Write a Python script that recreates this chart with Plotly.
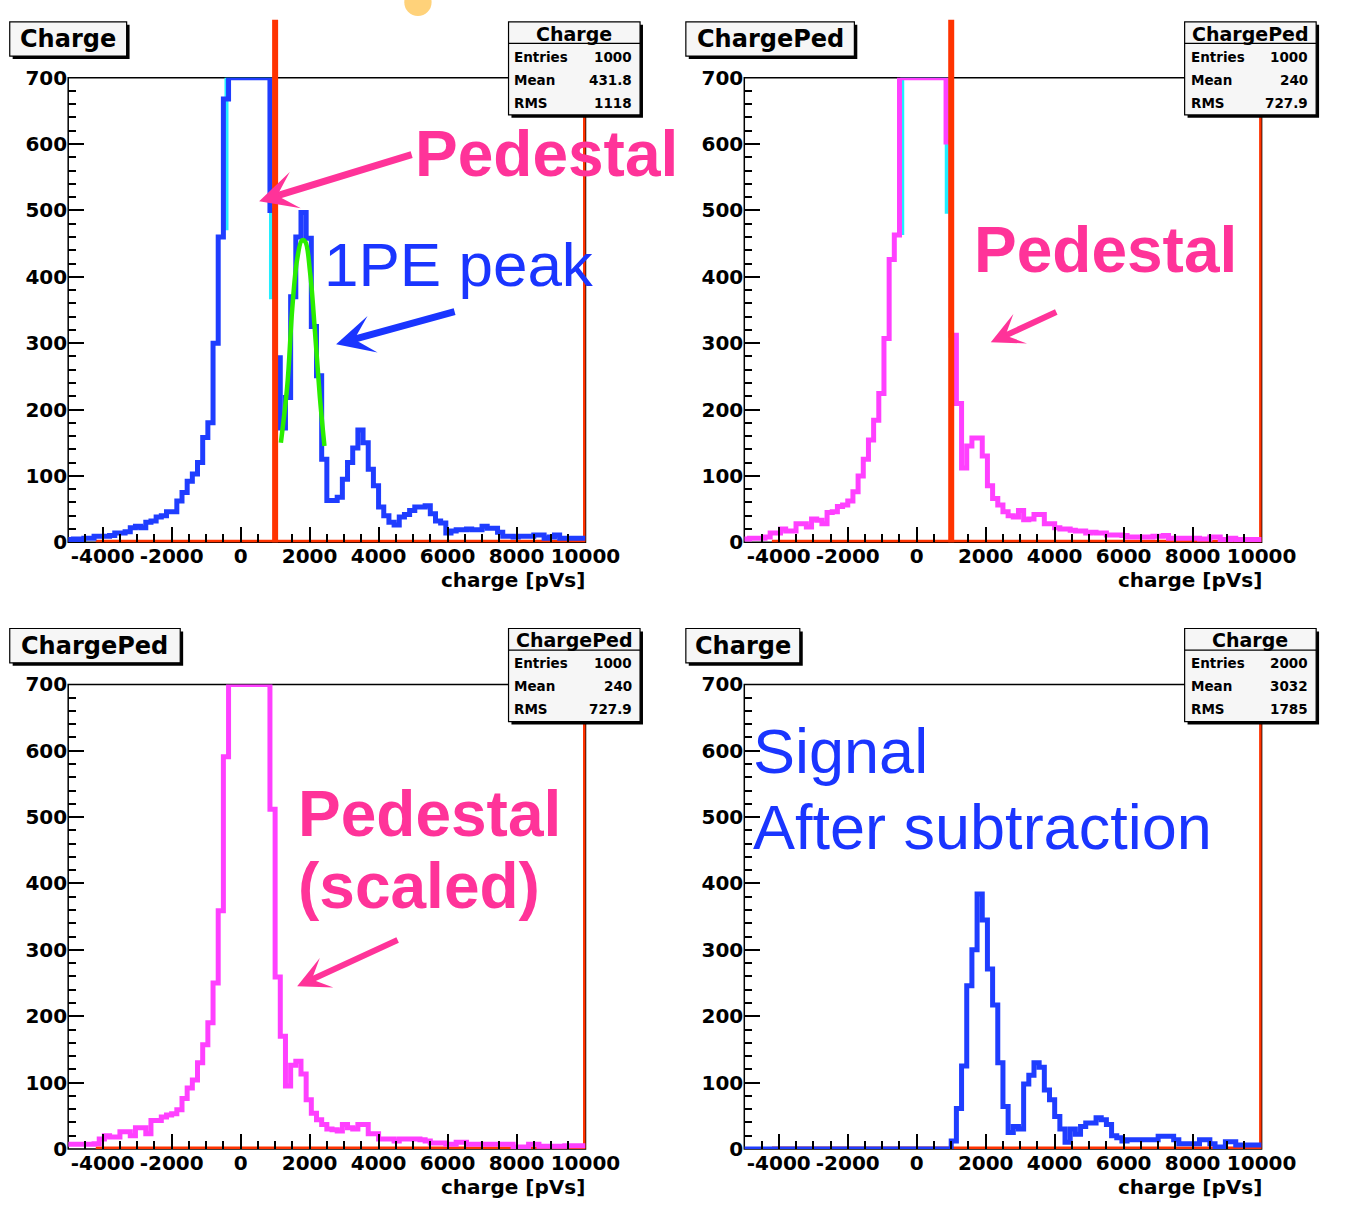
import plotly.graph_objects as go

W, H = 1357, 1209

# ------------------------------------------------------------------ data
bin_start = -5000
bin_width = 150
x_range = [-5000, 10000]
y_range = [0, 700]
x_tick_vals = [-4000, -2000, 0, 2000, 4000, 6000, 8000, 10000]
x_tick_text = ["-4000", "-2000", "0", "2000", "4000", "6000", "8000", "10000"]
y_tick_vals = [0, 100, 200, 300, 400, 500, 600, 700]
y_tick_text = ["0", "100", "200", "300", "400", "500", "600", "700"]

# top-left: Charge (signal + pedestal), counts per 150 pVs bin (display clipped at 700)
charge_counts = [4, 5, 4, 6, 6, 9, 9, 9, 10, 14,
                 14, 16, 22, 24, 22, 30, 32, 38, 40, 46,
                 46, 62, 75, 92, 103, 120, 158, 180, 300, 460,
                 668, 700, 700, 700, 700, 700, 700, 700, 700, 500,
                 278, 172, 218, 370, 460, 497, 458, 325, 251, 125,
                 63, 63, 68, 95, 120, 142, 169, 150, 110, 85,
                 53, 40, 30, 26, 38, 42, 48, 53, 53, 55,
                 43, 32, 29, 14, 17, 19, 19, 20, 19, 19,
                 24, 21, 21, 15, 9, 9, 8, 9, 9, 9,
                 11, 11, 6, 8, 11, 6, 6, 6, 6, 6]

# top-right: ChargePed
chargeped_counts = [5, 6, 6, 6, 8, 14, 14, 20, 17, 17,
                    28, 28, 23, 35, 33, 28, 45, 46, 54, 56,
                    62, 76, 100, 125, 154, 184, 224, 307, 426, 463,
                    700, 700, 700, 700, 700, 700, 700, 700, 700, 603,
                    312, 209, 112, 145, 157, 157, 130, 85, 66, 56,
                    46, 40, 38, 48, 34, 35, 42, 42, 28, 28,
                    22, 20, 20, 18, 17, 17, 14, 15, 14, 14,
                    11, 11, 11, 10, 8, 8, 8, 8, 8, 9,
                    9, 10, 6, 6, 6, 6, 6, 6, 5, 5,
                    8, 8, 4, 4, 6, 4, 4, 4, 4, 4]

# bottom-left: ChargePed (scaled)
chargeped_scaled_counts = [7, 7, 7, 7, 7, 8, 15, 20, 18, 18,
                           26, 26, 20, 32, 32, 23, 43, 43, 48, 51,
                           53, 59, 76, 92, 104, 130, 157, 190, 250, 359,
                           591, 700, 700, 700, 700, 700, 700, 700, 700, 512,
                           259, 170, 95, 126, 132, 113, 74, 54, 44, 37,
                           30, 29, 27, 37, 32, 30, 37, 37, 23, 23,
                           15, 15, 15, 12, 15, 15, 15, 15, 14, 12,
                           9, 9, 9, 7, 7, 10, 10, 7, 7, 7,
                           7, 7, 7, 7, 7, 7, 3, 3, 3, 7,
                           7, 4, 4, 4, 4, 4, 5, 5, 5, 5]

# bottom-right: signal after subtraction
signal_counts = [0, 0, 0, 0, 0, 0, 0, 0, 0, 0,
                 0, 0, 0, 0, 0, 0, 0, 0, 0, 0,
                 0, 0, 0, 0, 0, 0, 0, 0, 0, 0,
                 0, 0, 0, 0, 0, 0, 0, 0, 0, 0,
                 12, 61, 125, 246, 300, 384, 345, 271, 217, 130,
                 64, 25, 34, 30, 98, 111, 130, 123, 89, 74,
                 49, 30, 10, 30, 22, 34, 39, 39, 47, 44,
                 37, 20, 17, 12, 14, 14, 14, 14, 14, 14,
                 19, 19, 19, 14, 8, 8, 8, 8, 14, 14,
                 8, 3, 3, 11, 11, 6, 6, 6, 6, 6]

# green 1PE fit curve
fit_x = [1167, 1356, 1497, 1638, 1779, 1873, 2015, 2156, 2297, 2430]
fit_y = [150, 238, 352, 426, 455, 453, 406, 317, 219, 145]

# cyan pedestal-window outlines
ped_window_tl_x = [-410, -410, 880, 880]
ped_window_tl_y = [470, 700, 700, 366]
ped_window_tr_x = [-420, -420, 870, 870]
ped_window_tr_y = [463, 700, 700, 495]

cut_position = 1000
red_zero_x = [-4200, 10000, 10000]
red_zero_y = [0, 0, 700]

panel_titles = ["Charge", "ChargePed", "ChargePed", "Charge"]
stat_names = ["Entries", "Mean", "RMS"]
stat_values = [["1000", "431.8", "1118"],
               ["1000", "240", "727.9"],
               ["1000", "240", "727.9"],
               ["2000", "3032", "1785"]]
x_title = "charge [pVs]"

# ------------------------------------------------------------------ style
BLUE = "#1F3DFF"
MAGENTA = "#FF40FF"
CYAN = "#22EEFF"
GREEN = "#2BEE00"
RED = "#FF3300"
PINK = "#FF3399"
TXTBLUE = "#1A35FF"
ROOTFONT = "DejaVu Sans"
ARIAL = "Liberation Sans"
HW = 5  # histogram line width

panels = [(70, 601, 67, 541), (764, 1295, 67, 541),
          (70, 601, 686, 1160), (764, 1295, 686, 1160)]
title_widths = [120, 173, 175, 117]


def px(v):
    return v / W


def py(v):
    return 1 - v / H


def steps(counts):
    edges = [bin_start + bin_width * i for i in range(len(counts) + 1)]
    return edges, list(counts) + [counts[-1]]


fig = go.Figure()
layout = dict(width=W, height=H, margin=dict(l=0, r=0, t=0, b=0), autosize=False,
              paper_bgcolor="white", plot_bgcolor="white", showlegend=False)

shapes, annotations = [], []

for k, (l, r, t, b) in enumerate(panels):
    n = "" if k == 0 else str(k + 1)
    layout["xaxis" + n] = dict(
        domain=[px(l), px(r)], range=x_range, anchor="y" + n,
        tickmode="array", tickvals=x_tick_vals, ticktext=x_tick_text,
        ticks="inside", ticklen=15, tickwidth=1.5, tickcolor="black",
        minor=dict(tickmode="linear", tick0=0, dtick=500, ticks="inside",
                   ticklen=8, tickwidth=1.5, tickcolor="black"),
        showline=False, showgrid=False, zeroline=False,
        tickfont=dict(family=ROOTFONT, size=20, color="black", weight="bold"))
    layout["yaxis" + n] = dict(
        domain=[py(b), py(t)], range=y_range, anchor="x" + n,
        tickmode="array", tickvals=y_tick_vals, ticktext=y_tick_text,
        ticks="inside", ticklen=16, tickwidth=1.5, tickcolor="black",
        minor=dict(tickmode="linear", tick0=0, dtick=20, ticks="inside",
                   ticklen=8, tickwidth=1.5, tickcolor="black"),
        showline=False, showgrid=False, zeroline=False,
        tickfont=dict(family=ROOTFONT, size=20, color="black", weight="bold"))

    # frame
    shapes.append(dict(type="rect", xref="paper", yref="paper", x0=px(l), x1=px(r),
                       y0=py(b), y1=py(t), line=dict(color="black", width=1.5),
                       fillcolor="rgba(0,0,0,0)", layer="below"))

    # x axis title
    annotations.append(dict(text="<b>" + x_title + "</b>", xref="paper", yref="paper",
                            x=px(r + 2), y=py(b + 39), xanchor="right", yanchor="middle",
                            showarrow=False, font=dict(family=ROOTFONT, size=20, color="black")))

    # title box
    tl_, tt_ = l - 60, t - 57
    tw = title_widths[k]
    shapes.append(dict(type="rect", xref="paper", yref="paper", x0=px(tl_ + 3), x1=px(tl_ + tw + 3),
                       y0=py(tt_ + 38), y1=py(tt_ + 3), line=dict(width=0), fillcolor="black", layer="above"))
    shapes.append(dict(type="rect", xref="paper", yref="paper", x0=px(tl_), x1=px(tl_ + tw),
                       y0=py(tt_ + 35), y1=py(tt_), line=dict(color="black", width=1.2),
                       fillcolor="#F6F6F6", layer="above"))
    annotations.append(dict(text="<b>" + panel_titles[k] + "</b>", xref="paper", yref="paper",
                            x=px(tl_ + tw / 2), y=py(tt_ + 18), xanchor="center", yanchor="middle",
                            showarrow=False, font=dict(family=ROOTFONT, size=24, color="black")))

    # stats box
    sl, sr, st, sb = r - 79, r + 56, t - 57, t + 38
    shapes.append(dict(type="rect", xref="paper", yref="paper", x0=px(sl + 3), x1=px(sr + 3),
                       y0=py(sb + 3), y1=py(st + 3), line=dict(width=0), fillcolor="black", layer="above"))
    shapes.append(dict(type="rect", xref="paper", yref="paper", x0=px(sl), x1=px(sr),
                       y0=py(sb), y1=py(st), line=dict(color="black", width=1.2),
                       fillcolor="#F6F6F6", layer="above"))
    shapes.append(dict(type="line", xref="paper", yref="paper", x0=px(sl), x1=px(sr),
                       y0=py(st + 22), y1=py(st + 22), line=dict(color="black", width=1.2), layer="above"))
    annotations.append(dict(text="<b>" + panel_titles[k] + "</b>", xref="paper", yref="paper",
                            x=px((sl + sr) / 2), y=py(st + 12), xanchor="center", yanchor="middle",
                            showarrow=False, font=dict(family=ROOTFONT, size=19, color="black")))
    for j, (name, val) in enumerate(zip(stat_names, stat_values[k])):
        yy = st + 35.5 + 23.5 * j
        annotations.append(dict(text="<b>" + name + "</b>", xref="paper", yref="paper",
                                x=px(sl + 4), y=py(yy), xanchor="left", yanchor="middle",
                                showarrow=False, font=dict(family=ROOTFONT, size=13.5, color="black")))
        annotations.append(dict(text="<b>" + val + "</b>", xref="paper", yref="paper",
                                x=px(sr - 6), y=py(yy), xanchor="right", yanchor="middle",
                                showarrow=False, font=dict(family=ROOTFONT, size=13.5, color="black")))

    # red zero-line histogram
    fig.add_trace(go.Scatter(x=red_zero_x, y=red_zero_y, mode="lines", xaxis="x" + n, yaxis="y" + n,
                             line=dict(color=RED, width=5), hoverinfo="skip"))

# ---- traces per panel
# top-left
fig.add_trace(go.Scatter(x=ped_window_tl_x, y=ped_window_tl_y, mode="lines", xaxis="x", yaxis="y",
                         line=dict(color=CYAN, width=4), hoverinfo="skip"))
ex, ey = steps(charge_counts)
fig.add_trace(go.Scatter(x=ex, y=ey, mode="lines", line_shape="hv", xaxis="x", yaxis="y",
                         line=dict(color=BLUE, width=HW)))
fig.add_trace(go.Scatter(x=fit_x, y=fit_y, mode="lines", line_shape="spline", xaxis="x", yaxis="y",
                         line=dict(color=GREEN, width=4.5)))
# top-right
fig.add_trace(go.Scatter(x=ped_window_tr_x, y=ped_window_tr_y, mode="lines", xaxis="x2", yaxis="y2",
                         line=dict(color=CYAN, width=4), hoverinfo="skip"))
ex, ey = steps(chargeped_counts)
fig.add_trace(go.Scatter(x=ex, y=ey, mode="lines", line_shape="hv", xaxis="x2", yaxis="y2",
                         line=dict(color=MAGENTA, width=HW)))
# bottom-left
ex, ey = steps(chargeped_scaled_counts)
fig.add_trace(go.Scatter(x=ex, y=ey, mode="lines", line_shape="hv", xaxis="x3", yaxis="y3",
                         line=dict(color=MAGENTA, width=HW)))
# bottom-right
ex, ey = steps(signal_counts)
fig.add_trace(go.Scatter(x=ex, y=ey, mode="lines", line_shape="hv", xaxis="x4", yaxis="y4",
                         line=dict(color=BLUE, width=HW)))

# red cut lines at the pedestal threshold (top panels)
for xr in ["x", "x2"]:
    shapes.append(dict(type="line", xref=xr, yref="paper", x0=cut_position, x1=cut_position,
                       y0=py(541), y1=py(8), line=dict(color=RED, width=6), layer="above"))

# small orange sliver at the top edge
shapes.append(dict(type="circle", xref="paper", yref="paper", x0=px(415), x1=px(443),
                   y0=py(4), y1=py(-24), line=dict(width=0), fillcolor="#FFD27A", layer="above"))


def label(text, x, y, size, color, bold):
    t = "<b>" + text + "</b>" if bold else text
    annotations.append(dict(text=t, xref="paper", yref="paper", x=px(x), y=py(y),
                            xanchor="left", yanchor="middle", showarrow=False,
                            font=dict(family=ARIAL, size=size, color=color)))


def arrow(hx, hy, tx, ty, color, width):
    annotations.append(dict(text="", xref="paper", yref="paper", x=px(hx), y=py(hy),
                            ax=tx - hx, ay=ty - hy, showarrow=True, arrowhead=3,
                            arrowsize=0.9, arrowwidth=width, arrowcolor=color, standoff=0))


label("Pedestal", 424, 145, 64, PINK, True)
label("1PE peak", 331, 258, 62, TXTBLUE, False)
label("Pedestal", 998, 243, 64, PINK, True)
label("Pedestal", 304, 818, 64, PINK, True)
label("(scaled)", 304, 892, 64, PINK, True)
label("Signal", 771, 754, 63, TXTBLUE, False)
label("After subtraction", 771, 832, 63, TXTBLUE, False)

arrow(266, 193, 420, 146, PINK, 7)
arrow(345, 339, 465, 306, TXTBLUE, 7)
arrow(1017, 337, 1084, 306, PINK, 6)
arrow(305, 994, 407, 947, PINK, 6)

layout["shapes"] = shapes
layout["annotations"] = annotations
fig.update_layout(**layout)
fig.write_html("out.html",
               post_script="document.body.style.margin='0';document.body.style.padding='0';"
                           "document.body.style.overflow='hidden';")
